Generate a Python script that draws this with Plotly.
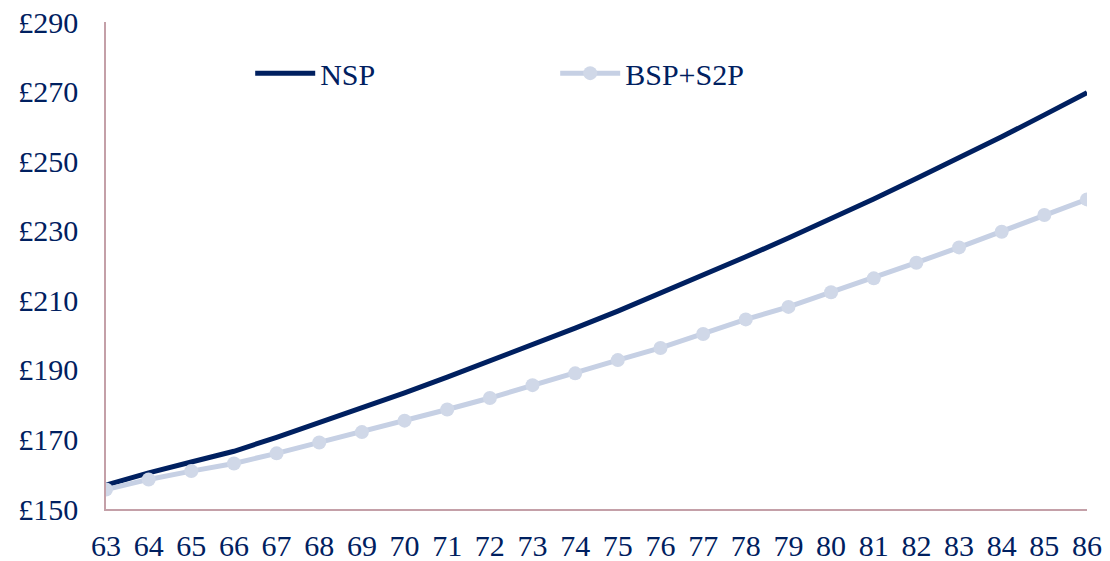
import plotly.graph_objects as go

ages = list(range(63, 87))
nsp = [156.9, 160.4, 163.5, 166.6, 170.6, 174.8, 179.0, 183.4, 187.9, 192.5, 197.2, 202.0,
       206.9, 212.0, 217.2, 222.5, 227.9, 233.4, 239.1, 245.0, 250.9, 257.0, 263.3, 269.7]
bsp_s2p = [155.6, 158.5, 160.9, 163.1, 166.0, 169.1, 172.1, 175.4, 178.6, 181.9, 185.6, 189.0,
           192.8, 196.3, 200.3, 204.5, 208.1, 212.3, 216.3, 220.8, 225.2, 229.7, 234.5, 239.0]
y_ticks = [150, 170, 190, 210, 230, 250, 270, 290]

NAVY = "#002060"
LIGHT = "#c6d0e4"
AXIS = "#c4a0a8"
FONT = "Liberation Serif"

fig = go.Figure()
fig.add_trace(go.Scatter(x=ages, y=nsp, name="NSP", mode="lines",
                         line=dict(color=NAVY, width=5)))
fig.add_trace(go.Scatter(x=ages, y=bsp_s2p, name="BSP+S2P", mode="lines+markers",
                         line=dict(color=LIGHT, width=5),
                         marker=dict(color="#d0d8e8", size=14)))

fig.update_layout(
    width=1110, height=561,
    margin=dict(l=106, r=23, t=22, b=52),
    paper_bgcolor="white", plot_bgcolor="white",
    font=dict(family=FONT, size=30, color=NAVY),
    legend=dict(orientation="h", x=0.147, y=0.895, xanchor="left", yanchor="middle",
                itemwidth=60, entrywidth=230, font=dict(size=30, color=NAVY),
                bgcolor="rgba(0,0,0,0)"),
    xaxis=dict(range=[63, 86], tickmode="array", tickvals=ages,
               ticktext=[str(a) for a in ages], automargin=False,
               showgrid=False, zeroline=False, showline=True, linecolor=AXIS, linewidth=1.5,
               ticks="", ticklabelstandoff=9),
    yaxis=dict(range=[150, 290], tickmode="array", tickvals=y_ticks,
               ticktext=["£" + str(v) for v in y_ticks], automargin=False,
               showgrid=False, zeroline=False, showline=True, linecolor=AXIS, linewidth=1.5,
               ticks="", ticklabelstandoff=20),
)
fig.write_html("out.html", config={"displayModeBar": False},
               post_script="document.body.style.margin='0';document.body.style.overflow='hidden';")
